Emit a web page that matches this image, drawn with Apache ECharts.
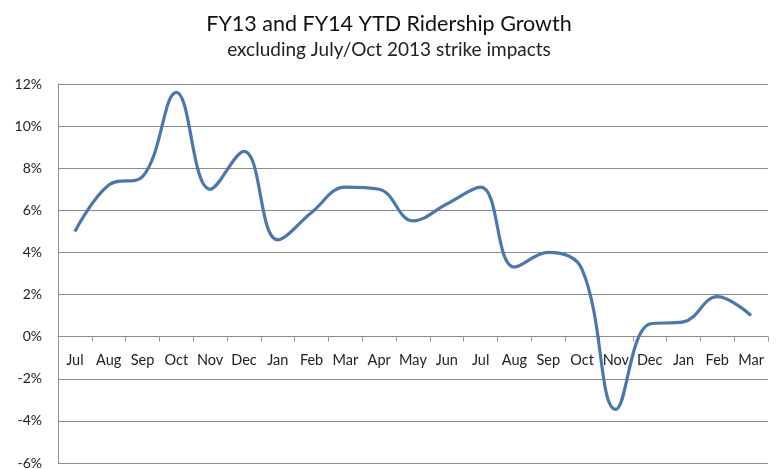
<!DOCTYPE html>
<html><head><meta charset="utf-8">
<script src="https://cdn.jsdelivr.net/npm/echarts@6/dist/echarts.min.js"></script>
<style>html,body{margin:0;padding:0;background:#fff}#c{width:778px;height:469px}</style>
</head><body><div id="c"></div>
<script>
const categories = ["Jul","Aug","Sep","Oct","Nov","Dec","Jan","Feb","Mar","Apr","May","Jun","Jul","Aug","Sep","Oct","Nov","Dec","Jan","Feb","Mar"];
const growth = [5.0, 7.2, 7.6, 11.6, 7.0, 8.8, 4.6, 5.9, 7.1, 7.0, 5.5, 6.3, 7.1, 3.3, 4.0, 3.2, -3.45, 0.6, 0.7, 1.9, 1.0];
const yTicks = {min: -6, max: 12, interval: 2};
const titleText = "FY13 and FY14 YTD Ridership Growth";
const subtitleText = "excluding July/Oct 2013 strike impacts";

const chart = echarts.init(document.getElementById('c'), null, {renderer: 'canvas'});
const font = "Lato, 'Open Sans', sans-serif";
const gridTop = 84, gridBottom = 6, H = 469;
const plotH = H - gridTop - gridBottom;
const zeroOffset = -plotH * (0 - yTicks.min) / (yTicks.max - yTicks.min);
chart.setOption({
  animation: false,
  backgroundColor: '#fff',
  title: {
    text: titleText, subtext: subtitleText, left: 'center', top: 8, itemGap: 5,
    textStyle: {fontFamily: font, fontSize: 21.5, fontWeight: 'normal', color: '#111'},
    subtextStyle: {fontFamily: font, fontSize: 19, color: '#222'}
  },
  grid: {left: 58, right: 10, top: gridTop, bottom: gridBottom, containLabel: false, outerBoundsMode: 'none'},
  xAxis: {
    type: 'category', data: categories, boundaryGap: true,
    offset: zeroOffset,
    axisLine: {onZero: false, lineStyle: {color: '#8c8c8c', width: 1}},
    axisTick: {show: true, length: 5, lineStyle: {color: '#9a9a9a'}},
    axisLabel: {fontFamily: font, fontSize: 14.5, color: '#222', margin: 16, interval: 0, hideOverlap: false}
  },
  yAxis: {
    type: 'value', min: yTicks.min, max: yTicks.max, interval: yTicks.interval,
    axisLine: {show: true, lineStyle: {color: '#8c8c8c'}},
    axisTick: {show: false},
    axisLabel: {fontFamily: font, fontSize: 14, color: '#222', margin: 16, formatter: v => v + '%'},
    splitLine: {lineStyle: {color: '#8c8c8c', width: 1}}
  },
  series: [{
    type: 'line', data: growth, smooth: 0.4, symbol: 'none',
    lineStyle: {color: '#4a78ae', width: 3.2}
  }]
});
</script></body></html>
